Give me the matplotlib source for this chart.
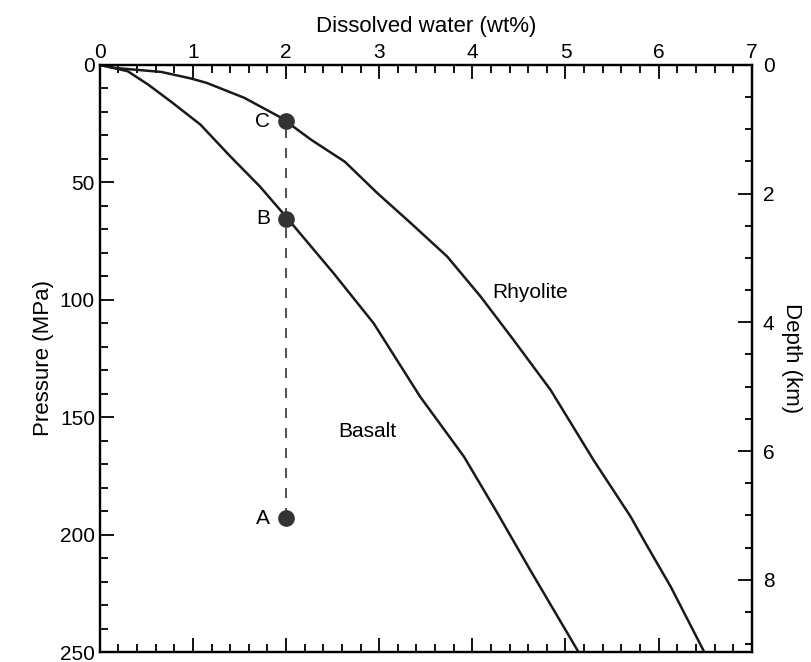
import matplotlib.pyplot as plt
from matplotlib.ticker import MultipleLocator

plt.rcParams['font.family'] = ['Liberation Sans', 'DejaVu Sans']

# water solubility curves: dissolved water (wt%) vs pressure (MPa)
rhyolite_x = [0, 0.16, 0.66, 0.98, 1.15, 1.55, 1.92, 2.0, 2.27, 2.63, 2.98, 3.34, 3.73,
              4.09, 4.44, 4.84, 5.30, 5.70, 5.84, 6.13, 6.49]
rhyolite_p = [0, 1.3, 3.0, 5.8, 7.7, 14, 21.9, 24, 31.9, 41.2, 54.6, 67.4, 81.6,
              98.7, 117, 138.4, 168.2, 192.4, 202.3, 222.2, 250]
basalt_x = [0, 0.30, 0.52, 0.76, 1.08, 1.40, 1.72, 2.02, 2.51, 2.94, 3.44, 3.91, 4.27, 4.62, 5.14]
basalt_p = [0, 2.7, 8.4, 15.5, 25.4, 38.9, 51.8, 65.6, 88.7, 110, 141.3, 166.8, 190.9, 215, 250]

# magma ascent path A -> B -> C at constant water content
pt_names = ['A', 'B', 'C']
pt_x = [2.0, 2.0, 2.0]
pt_p = [193, 65.6, 24]

mpa_per_km = 27.4

fig = plt.figure(figsize=(8.11, 6.62), dpi=100)
ax = fig.add_axes([0.123, 0.015, 0.804, 0.887])

ax.plot(rhyolite_x, rhyolite_p, color='#1a1a1a', lw=1.8, solid_joinstyle='round')
ax.plot(basalt_x, basalt_p, color='#1a1a1a', lw=1.8, solid_joinstyle='round')
ax.plot(pt_x, pt_p, color='#333333', lw=1.2, ls=(0, (6, 6)))
ax.plot(pt_x, pt_p, 'o', color='#333333', ms=11, ls='none')
for n, x, p in zip(pt_names, pt_x, pt_p):
    ax.text(x - 0.17, p, n, ha='right', va='center', fontsize=15)

ax.text(4.62, 97, 'Rhyolite', ha='center', va='center', fontsize=15)
ax.text(2.87, 156, 'Basalt', ha='center', va='center', fontsize=15)

ax.set_xlim(0, 7)
ax.set_ylim(250, 0)
ax.xaxis.tick_top()
ax.xaxis.set_label_position('top')
ax.set_xlabel('Dissolved water (wt%)', fontsize=16, labelpad=8)
ax.set_ylabel('Pressure (MPa)', fontsize=16, labelpad=4)
ax.xaxis.set_major_locator(MultipleLocator(1))
ax.xaxis.set_minor_locator(MultipleLocator(0.2))
ax.yaxis.set_major_locator(MultipleLocator(50))
ax.yaxis.set_minor_locator(MultipleLocator(10))
ax.tick_params(which='both', direction='in', top=True, bottom=True, labelsize=15, width=1.3)
ax.tick_params(which='major', length=10)
ax.tick_params(which='minor', length=6)
ax.tick_params(axis='x', which='major', pad=2)

ax2 = ax.twinx()
ax2.set_ylim(250 / mpa_per_km, 0)
ax2.yaxis.set_major_locator(MultipleLocator(2))
ax2.yaxis.set_minor_locator(MultipleLocator(0.5))
ax2.tick_params(which='both', direction='in', labelsize=15, width=1.3)
ax2.tick_params(which='major', length=10, pad=8)
ax2.tick_params(which='minor', length=5)
ax2.set_ylabel('Depth (km)', fontsize=16, rotation=270, labelpad=20)

for a in (ax, ax2):
    for s in a.spines.values():
        s.set_linewidth(1.6)

fig.savefig('out.png', dpi=100)
